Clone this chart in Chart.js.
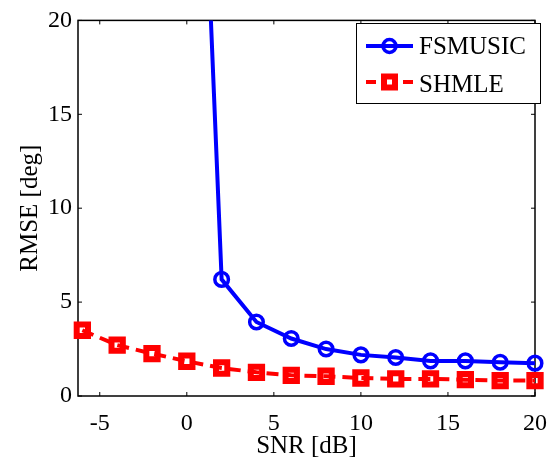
<!DOCTYPE html>
<html>
<head>
<meta charset="utf-8">
<script src="https://cdn.jsdelivr.net/npm/chart.js@4/dist/chart.umd.min.js"></script>
<style>
  html, body { margin: 0; padding: 0; background: #fff; }
  #wrap { width: 560px; height: 462px; }
</style>
</head>
<body>
<div id="wrap"><canvas id="c"></canvas></div>
<script>
// RMSE vs SNR, MATLAB-style figure.

const snr = [-6, -4, -2, 0, 2, 4, 6, 8, 10, 12, 14, 16, 18, 20];
const fsmusic = [null, null, null, 51, 6.21, 3.94, 3.06, 2.5, 2.19, 2.05, 1.87, 1.87, 1.8, 1.75];
const shmle = [3.5, 2.71, 2.26, 1.85, 1.49, 1.26, 1.1, 1.05, 0.96, 0.91, 0.91, 0.87, 0.82, 0.82];
const xTicks = [-5, 0, 5, 10, 15, 20];
const yTicks = [0, 5, 10, 15, 20];

const FONT = 'Liberation Serif';
const BLUE = '#0000ff';
const RED = '#ff0000';

const toPoints = ys => snr.map((x, i) => ({ x, y: ys[i] }));

// box + inward ticks on all four sides
const framePlugin = {
  id: 'frame',
  beforeDatasetsDraw(chart) {
    const { ctx, chartArea: a, scales } = chart;
    ctx.save();
    ctx.strokeStyle = '#000';
    ctx.lineWidth = 1.5;
    ctx.strokeRect(a.left, a.top, a.right - a.left, a.bottom - a.top);
    ctx.lineWidth = 1;
    ctx.beginPath();
    for (const v of xTicks) {
      const px = scales.x.getPixelForValue(v);
      ctx.moveTo(px, a.bottom); ctx.lineTo(px, a.bottom - 4);
      ctx.moveTo(px, a.top); ctx.lineTo(px, a.top + 4);
    }
    for (const v of yTicks) {
      const py = scales.y.getPixelForValue(v);
      ctx.moveTo(a.left, py); ctx.lineTo(a.left + 4, py);
      ctx.moveTo(a.right, py); ctx.lineTo(a.right - 4, py);
    }
    ctx.stroke();
    ctx.restore();
  },
};

const legendPlugin = {
  id: 'box-legend',
  afterDraw(chart) {
    const ctx = chart.ctx;
    const bx = 356, by = 23, bw = 184, bh = 80;
    ctx.save();
    ctx.fillStyle = '#fff';
    ctx.fillRect(bx, by, bw, bh);
    ctx.strokeStyle = '#000';
    ctx.lineWidth = 1;
    ctx.strokeRect(bx + 0.5, by + 0.5, bw, bh);

    // FSMUSIC row
    let y = 46;
    ctx.strokeStyle = BLUE;
    ctx.lineWidth = 4;
    ctx.beginPath(); ctx.moveTo(366, y); ctx.lineTo(413, y); ctx.stroke();
    ctx.lineWidth = 3.5;
    ctx.beginPath(); ctx.arc(389.5, y, 6.5, 0, Math.PI * 2); ctx.stroke();

    // SHMLE row
    y = 82;
    ctx.strokeStyle = RED;
    ctx.lineWidth = 4;
    ctx.beginPath();
    ctx.moveTo(366, y); ctx.lineTo(376, y);
    ctx.moveTo(403, y); ctx.lineTo(413, y);
    ctx.stroke();
    ctx.lineWidth = 6;
    ctx.strokeRect(384, y - 5.5, 11, 11);

    ctx.fillStyle = '#000';
    ctx.font = `25px "${FONT}"`;
    ctx.textBaseline = 'middle';
    ctx.textAlign = 'left';
    ctx.fillText('FSMUSIC', 419, 47);
    ctx.fillText('SHMLE', 419, 85);
    ctx.restore();
  },
};

new Chart(document.getElementById('c'), {
  type: 'line',
  data: {
    datasets: [
      {
        label: 'FSMUSIC', data: toPoints(fsmusic),
        borderColor: BLUE, borderWidth: 4,
        pointStyle: 'circle', pointRadius: 6.8, pointBorderWidth: 3.5,
        pointBorderColor: BLUE, pointBackgroundColor: 'rgba(0,0,0,0)',
        fill: false, tension: 0, spanGaps: false,
        clip: { left: 12, right: 12, top: 0, bottom: 12 },
      },
      {
        label: 'SHMLE', data: toPoints(shmle),
        borderColor: RED, borderWidth: 4, borderDash: [12, 7],
        pointStyle: 'rect', pointRadius: 8, pointBorderWidth: 6,
        pointBorderColor: RED, pointBackgroundColor: 'rgba(0,0,0,0)',
        fill: false, tension: 0,
        clip: { left: 12, right: 12, top: 0, bottom: 12 },
      },
    ],
  },
  options: {
    responsive: true, maintainAspectRatio: false, animation: false,
    layout: { padding: { top: 15, right: 13, left: 0, bottom: 0 } },
    scales: {
      x: {
        type: 'linear', min: -6.25, max: 20,
        afterBuildTicks: s => { s.ticks = xTicks.map(v => ({ value: v })); },
        afterFit: s => { s.height = 66; },
        grid: { display: false, drawTicks: false },
        border: { display: false },
        ticks: { color: '#000', font: { family: FONT, size: 24 }, padding: 13, maxRotation: 0 },
        title: { display: true, text: 'SNR [dB]', color: '#000', font: { family: FONT, size: 25 }, padding: { top: 1, bottom: 1 } },
      },
      y: {
        type: 'linear', min: 0, max: 20,
        afterBuildTicks: s => { s.ticks = yTicks.map(v => ({ value: v })); },
        afterFit: s => { s.width = 78; },
        grid: { display: false, drawTicks: false },
        border: { display: false },
        ticks: { color: '#000', font: { family: FONT, size: 24 }, padding: 6 },
        title: { display: true, text: 'RMSE [deg]', color: '#000', font: { family: FONT, size: 25 }, padding: { top: 15, bottom: 15 } },
      },
    },
    plugins: {
      legend: { display: false },
      tooltip: { enabled: false },
    },
  },
  plugins: [framePlugin, legendPlugin],
});
</script>
</body>
</html>
